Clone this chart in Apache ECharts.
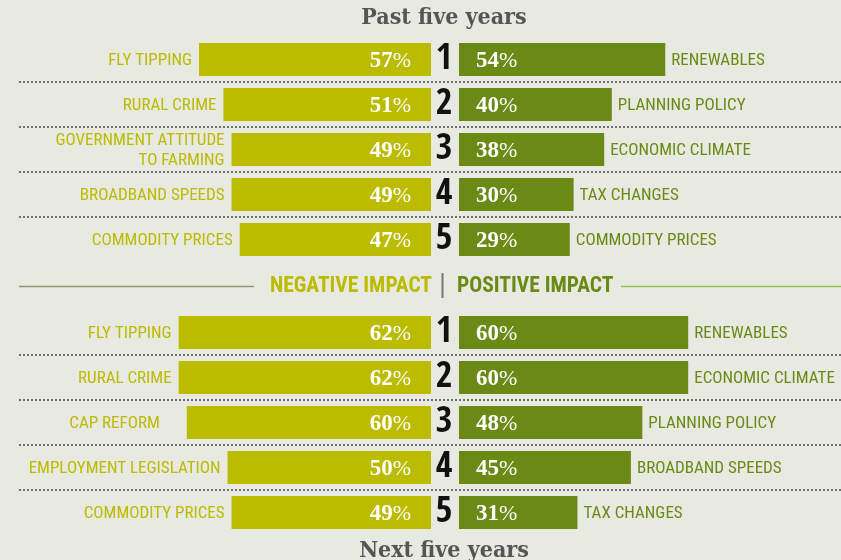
<!DOCTYPE html>
<html>
<head>
<meta charset="utf-8">
<script src="https://cdn.jsdelivr.net/npm/echarts@6/dist/echarts.min.js"></script>
<style>
  html, body { margin: 0; padding: 0; background: #e8e9e1; }
  #chart { width: 841px; height: 560px; }
</style>
</head>
<body>
<div id="chart"></div>
<script>
// ranks shared by both panels
const ranks = ['1', '2', '3', '4', '5'];

// Past five years
const pastNegNames = ['FLY TIPPING', 'RURAL CRIME', 'GOVERNMENT ATTITUDE\nTO FARMING', 'BROADBAND SPEEDS', 'COMMODITY PRICES'];
const pastNegValues = [57, 51, 49, 49, 47];
const pastPosNames = ['RENEWABLES', 'PLANNING POLICY', 'ECONOMIC CLIMATE', 'TAX CHANGES', 'COMMODITY PRICES'];
const pastPosValues = [54, 40, 38, 30, 29];

// Next five years
const nextNegNames = ['FLY TIPPING', 'RURAL CRIME', 'CAP REFORM', 'EMPLOYMENT LEGISLATION', 'COMMODITY PRICES'];
const nextNegValues = [62, 62, 60, 50, 49];
const nextPosNames = ['RENEWABLES', 'ECONOMIC CLIMATE', 'PLANNING POLICY', 'BROADBAND SPEEDS', 'TAX CHANGES'];
const nextPosValues = [60, 60, 48, 45, 31];

const YELLOW = '#bbbb00';
const GREEN = '#6a8a15';
const COND = '"Roboto Condensed", "DejaVu Sans Condensed", sans-serif';
const SERIF = '"Liberation Serif", "DejaVu Serif", serif';

// gap between bar end and its name (CAP REFORM sits further off in the original)
const nextNegGaps = [7, 7, 27, 7, 7];

const chart = echarts.init(document.getElementById('chart'));

const valueRich = {
  n: { fontFamily: SERIF, fontWeight: 'bold', fontSize: 23, color: '#fff' },
  p: { fontFamily: SERIF, fontWeight: 'normal', fontSize: 22, color: '#fff' }
};

function panel(top) {
  return [
    { left: 24, width: 407, top: top, height: 225 },
    { left: 459, width: 407, top: top, height: 225 },
    { left: 19, right: 0, top: top, height: 225 }
  ];
}

const grids = panel(37).concat(panel(310));

const xAxes = [];
const yAxes = [];
grids.forEach((g, i) => {
  const kind = i % 3; // 0 negative, 1 positive, 2 dotted rules
  xAxes.push({
    type: 'value', gridIndex: i, min: 0, max: kind === 2 ? 1 : 100,
    inverse: kind === 0, show: false
  });
  yAxes.push({
    type: 'category', gridIndex: i, data: ranks, inverse: true,
    position: kind === 0 ? 'right' : 'left',
    show: kind !== 1,
    axisLine: { show: false },
    axisTick: { show: false },
    axisLabel: {
      show: kind === 0,
      interval: 0,
      align: 'center',
      margin: 13,
      padding: [6, 0, 0, 0],
      fontFamily: '"Open Sans Condensed", "Roboto Condensed", sans-serif',
      fontWeight: 'bold',
      fontSize: 36,
      color: '#111'
    },
    splitLine: {
      show: kind === 2,
      interval: 0,
      showMinLine: false,
      showMaxLine: false,
      lineStyle: { type: 'dotted', color: '#6f6f6f', width: 2 }
    }
  });
});

function sideSeries(gridIdx, names, values, color, negative, gaps) {
  return [
    {
      type: 'bar', xAxisIndex: gridIdx, yAxisIndex: gridIdx,
      barWidth: 33, barGap: '-100%',
      itemStyle: { color: color },
      label: {
        show: true,
        position: negative ? 'insideRight' : 'insideLeft',
        distance: negative ? 20 : 17,
        offset: [0, 1.5],
        formatter: p => '{n|' + p.value + '}{p|%}',
        rich: valueRich
      },
      data: values
    },
    {
      type: 'bar', xAxisIndex: gridIdx, yAxisIndex: gridIdx,
      barWidth: 33, barGap: '-100%', silent: true,
      itemStyle: { color: 'rgba(0,0,0,0)' },
      data: values.map((v, k) => ({
        value: v,
        label: {
          show: true,
          position: negative ? 'left' : 'right',
          distance: gaps ? gaps[k] : (negative ? 7 : 6),
          offset: [0, 1],
          formatter: names[k],
          fontFamily: COND,
          fontSize: 17,
          lineHeight: 20,
          color: color
        }
      }))
    }
  ];
}

const series = [].concat(
  sideSeries(0, pastNegNames, pastNegValues, YELLOW, true),
  sideSeries(1, pastPosNames, pastPosValues, GREEN, false),
  sideSeries(3, nextNegNames, nextNegValues, YELLOW, true, nextNegGaps),
  sideSeries(4, nextPosNames, nextPosValues, GREEN, false)
);

const titleStyle = { fontFamily: '"DejaVu Serif Condensed", "DejaVu Serif", serif', fontWeight: 'bold', fontSize: 23, color: '#555' };

chart.setOption({
  backgroundColor: '#e8e9e1',
  animation: false,
  title: [
    { text: 'Past five years', left: 444, top: 7, textAlign: 'center', padding: 0, textStyle: titleStyle },
    { text: 'Next five years', left: 444, top: 540, textAlign: 'center', padding: 0, textStyle: titleStyle }
  ],
  grid: grids,
  xAxis: xAxes,
  yAxis: yAxes,
  series: series,
  graphic: [
    { type: 'line', shape: { x1: 19, y1: 286.5, x2: 254, y2: 286.5 }, style: { stroke: '#8e9b72', lineWidth: 1.5 } },
    { type: 'line', shape: { x1: 621, y1: 286.5, x2: 841, y2: 286.5 }, style: { stroke: '#92c44a', lineWidth: 1.5 } },
    { type: 'line', shape: { x1: 442.5, y1: 273, x2: 442.5, y2: 298 }, style: { stroke: '#777', lineWidth: 2 } },
    {
      type: 'text', x: 432, y: 286.5,
      style: { text: 'NEGATIVE IMPACT', align: 'right', verticalAlign: 'middle', fontFamily: COND, fontWeight: 'bold', fontSize: 21.5, fill: YELLOW }
    },
    {
      type: 'text', x: 457, y: 286.5,
      style: { text: 'POSITIVE IMPACT', align: 'left', verticalAlign: 'middle', fontFamily: COND, fontWeight: 'bold', fontSize: 21.5, fill: GREEN }
    }
  ]
});
</script>
</body>
</html>
